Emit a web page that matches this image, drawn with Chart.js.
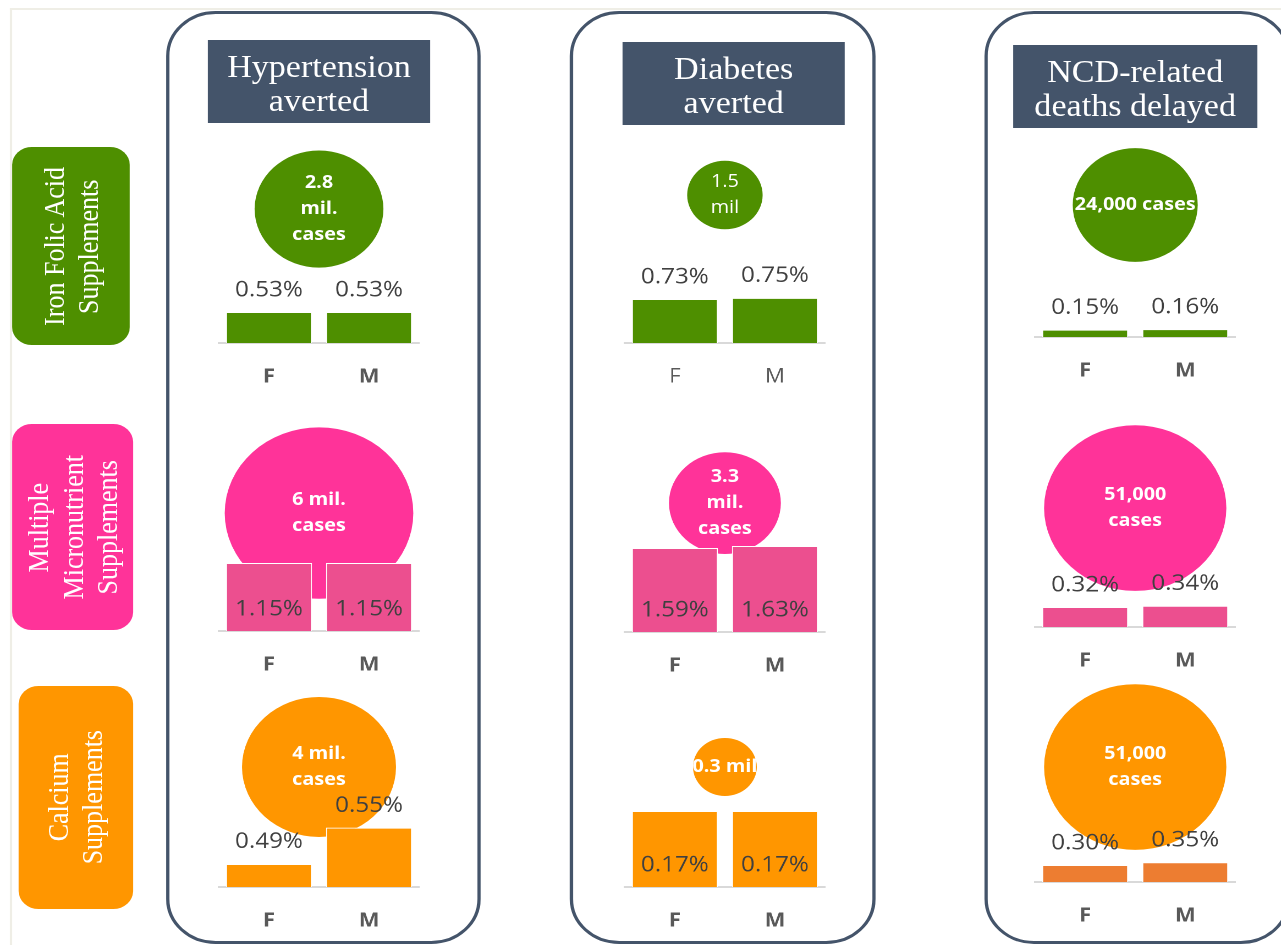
<!DOCTYPE html>
<html>
<head>
<meta charset="utf-8">
<title>NCD outcomes by supplement</title>
<script src="https://cdn.jsdelivr.net/npm/chart.js@4.4.0/dist/chart.umd.min.js"></script>
<style>
  body { margin: 0; background: #fff; overflow: hidden; width: 1281px; height: 945px; position: relative; }
  /* the whole sheet is drawn a little wide, like the slide it comes from */
  #page { position: absolute; left: 0; top: 0; width: 1165px; height: 945px; transform: scaleX(1.1); transform-origin: 0 0; }
  .edge { position: absolute; left: 9px; top: 8px; width: 1200px; height: 1000px; border-top: 2px solid #efeee6; border-left: 2px solid #efeee6; }
  .frame { position: absolute; top: 11px; height: 933px; border: 3px solid #44546a; border-radius: 45px; box-sizing: border-box; background: #fff; }
  .head { position: absolute; height: 83px; padding-top: 4px; box-sizing: border-box; background: #44546a; color: #fff; font-family: "Liberation Serif", serif; font-size: 31px; line-height: 34px; display: flex; align-items: center; justify-content: center; text-align: center; }
  .side { position: absolute; border-radius: 18px; color: #fff; font-family: "Liberation Serif", serif; font-size: 26px; line-height: 31px; display: flex; align-items: center; justify-content: center; }
  .side span { writing-mode: vertical-rl; transform: rotate(180deg); text-align: center; white-space: nowrap; }
  .cell { position: absolute; }
</style>
</head>
<body>
<div id="page"><div class="edge"></div></div>
<script>
const measures = [['Hypertension', 'averted'], ['Diabetes', 'averted'], ['NCD-related', 'deaths delayed']];
const supplements = [['Iron Folic Acid', 'Supplements'], ['Multiple', 'Micronutrient', 'Supplements'], ['Calcium', 'Supplements']];
const sexes = ['F', 'M'];

// % reduction [F, M], one row per supplement
const hypertensionPct = [[0.53, 0.53], [1.15, 1.15], [0.49, 0.55]];
const diabetesPct = [[0.73, 0.75], [1.59, 1.63], [0.17, 0.17]];
const deathsPct = [[0.15, 0.16], [0.32, 0.34], [0.30, 0.35]];

// cases: millions for hypertension and diabetes, thousands for deaths
const hypertensionCases = [2.8, 6, 4];
const diabetesCases = [1.5, 3.3, 0.3];
const deathsCases = [24, 51, 51];

const hypertensionText = [['2.8', 'mil.', 'cases'], ['6 mil.', 'cases'], ['4 mil.', 'cases']];
const diabetesText = [['1.5', 'mil'], ['3.3', 'mil.', 'cases'], ['0.3 mil']];
const deathsText = [['24,000 cases'], ['51,000', 'cases'], ['51,000', 'cases']];

const pctByMeasure = [hypertensionPct, diabetesPct, deathsPct];
const casesByMeasure = [hypertensionCases, diabetesCases, deathsCases];
const textByMeasure = [hypertensionText, diabetesText, deathsText];

// layout and look
const rowColors = ['#4e8f00', '#ff3399', '#ff9600'];
const barColors = [['#4e8f00', '#4e8f00', '#4e8f00'], ['#ec4f8f', '#ec4f8f', '#ec4f8f'], ['#ff9600', '#ff9600', '#ed7d31']];
const frameLeft = [151, 518, 895];
const frameWidth = [286, 278, 278];
const headBox = [[189, 40, 202], [566, 42, 202], [921, 45, 222]];
const sideBox = [[11, 147, 107, 198], [11, 424, 110, 206], [17, 686, 104, 223]];
const plotLeft = [199, 568, 941];
const plotWidth = 182;
const rowTop = [140, 415, 676];
const baseline = [[343, 343, 337], [631, 632, 627], [887, 887, 882]];
const yMin = [[0, 0, 0], [0, 0, 0], [0.452, 0, 0]];
const yMax = [[3.47, 3.37, 4.0], [3.65, 4.11, 3.39], [0.80, 0.472, 3.64]];
const bubbleAt = [[0.66, 0.729, 0.67], [0.546, 0.594, 0.561], [0.569, 0.569, 0.558]];
const bubbleScale = [35, 28, 11.6];
const bubbleMin = 29;
const labelInside = [[false, false, false], [true, true, false], [false, true, false]];
const boldText = [[true, false, true], [true, true, true], [true, true, true]];

// room round each plot; larger than any bubble so the chart area stays put
const PAD = 100;
const TICK_PAD = 22;
const AXIS_H = 24 + 2 * TICK_PAD;

Chart.defaults.font.family = '"Open Sans", sans-serif';

const page = document.getElementById('page');

for (let c = 0; c < 3; c++) {
    const frame = document.createElement('div');
    frame.className = 'frame';
    frame.style.left = frameLeft[c] + 'px';
    frame.style.width = frameWidth[c] + 'px';
    page.append(frame);

    const head = document.createElement('div');
    head.className = 'head';
    head.style.left = headBox[c][0] + 'px';
    head.style.top = headBox[c][1] + 'px';
    head.style.width = headBox[c][2] + 'px';
    head.innerHTML = measures[c].join('<br>');
    page.append(head);
}

for (let r = 0; r < 3; r++) {
    const side = document.createElement('div');
    side.className = 'side';
    side.style.left = sideBox[r][0] + 'px';
    side.style.top = sideBox[r][1] + 'px';
    side.style.width = sideBox[r][2] + 'px';
    side.style.height = sideBox[r][3] + 'px';
    side.style.background = rowColors[r];
    const span = document.createElement('span');
    span.innerHTML = supplements[r].join('<br>');
    side.append(span);
    page.append(side);
}

// value labels on the bars and the text inside each bubble
const cellLabels = {
    id: 'cellLabels',
    afterDatasetsDraw(chart, args, opts) {
        const ctx = chart.ctx;
        const bars = chart.getDatasetMeta(0).data;
        const values = chart.data.datasets[0].data;
        ctx.save();
        ctx.textAlign = 'center';
        ctx.textBaseline = 'middle';
        ctx.fillStyle = '#404040';
        ctx.font = '22px "Open Sans"';
        bars.forEach((bar, i) => {
            const y = opts.inside ? bar.base - 22 : bar.y - 22;
            ctx.fillText(values[i].toFixed(2) + '%', bar.x, y);
        });

        const bubble = chart.getDatasetMeta(1).data[0];
        ctx.fillStyle = '#fff';
        ctx.font = (opts.bold ? 'bold ' : '') + '18px "Open Sans"';
        opts.lines.forEach((line, i) => {
            ctx.fillText(line, bubble.x, bubble.y + (i - (opts.lines.length - 1) / 2) * 26);
        });
        ctx.restore();
    }
};

for (let r = 0; r < 3; r++) {
    for (let c = 0; c < 3; c++) {
        const h = baseline[r][c] - rowTop[r];
        const div = document.createElement('div');
        div.className = 'cell';
        div.style.left = (plotLeft[c] - PAD) + 'px';
        div.style.top = (rowTop[r] - PAD) + 'px';
        div.style.width = (plotWidth + 2 * PAD) + 'px';
        div.style.height = (h + 2 * PAD) + 'px';
        const canvas = document.createElement('canvas');
        div.append(canvas);
        page.append(div);

        const cases = casesByMeasure[c][r];
        const radius = Math.max(bubbleMin, bubbleScale[c] * Math.sqrt(cases));

        new Chart(canvas, {
            type: 'bar',
            data: {
                labels: sexes,
                datasets: [{
                    data: pctByMeasure[c][r],
                    backgroundColor: barColors[r][c],
                    borderColor: '#fff',
                    borderWidth: 1,
                    grouped: false,
                    barPercentage: 0.86,
                    categoryPercentage: 1,
                    order: 0
                }, {
                    type: 'bubble',
                    data: [{ x: 0.5, y: bubbleAt[r][c], r: radius }],
                    xAxisID: 'xb',
                    yAxisID: 'yb',
                    backgroundColor: rowColors[r],
                    borderWidth: 0,
                    clip: false,
                    order: 1
                }]
            },
            options: {
                responsive: true,
                maintainAspectRatio: false,
                devicePixelRatio: 2,
                animation: false,
                events: [],
                layout: { padding: { left: PAD, right: PAD, top: PAD, bottom: PAD - AXIS_H } },
                plugins: {
                    legend: { display: false },
                    tooltip: { enabled: false },
                    cellLabels: { inside: labelInside[r][c], bold: boldText[r][c], lines: textByMeasure[c][r] }
                },
                scales: {
                    x: {
                        grid: { display: false, drawTicks: false },
                        border: { display: true, color: '#d9d9d9', width: 2 },
                        ticks: {
                            padding: TICK_PAD,
                            color: '#595959',
                            font: { size: 20, weight: boldText[r][c] ? 'bold' : 'normal' }
                        }
                    },
                    y: { display: false, min: yMin[r][c], max: yMax[r][c] },
                    xb: { type: 'linear', display: false, min: 0, max: 1 },
                    yb: { type: 'linear', display: false, min: 0, max: 1 }
                }
            },
            plugins: [cellLabels]
        });
    }
}
</script>
</body>
</html>
